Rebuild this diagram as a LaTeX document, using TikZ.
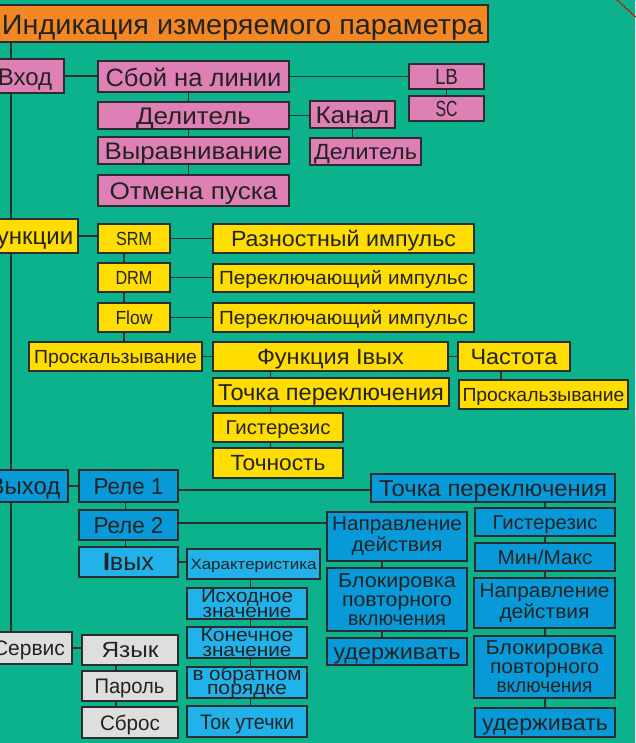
\documentclass[tikz,border=0pt]{standalone}
\usepackage{fontspec}
\setmainfont{Liberation Sans}
\usepackage{graphicx}
\pgfdeclarelayer{back}\pgfdeclarelayer{bg}\pgfsetlayers{back,bg,main}
\definecolor{bgc}{RGB}{12,178,140}
\definecolor{orangec}{RGB}{242,135,35}
\definecolor{pinkc}{RGB}{222,128,182}
\definecolor{yelc}{RGB}{255,221,0}
\definecolor{blued}{RGB}{8,154,216}
\definecolor{bluel}{RGB}{32,178,232}
\definecolor{grayc}{RGB}{222,222,222}
\definecolor{edge}{RGB}{45,45,45}
\definecolor{txt}{RGB}{35,35,35}
\newlength\fwlen
\newcommand\fw[2]{\settowidth\fwlen{#2}\pgfmathsetmacro\fwr{#1/\fwlen}\scalebox{\fwr}[1]{#2}}
% #1 box style, #2 name, #3 x1, #4 y1, #5 x2, #6 y2, #7 text options, #8 text
\newcommand\B[8]{%
  \pgfmathsetmacro\bw{#5-#3}\pgfmathsetmacro\bh{#6-#4}%
  \pgfmathsetmacro\bx{(#3+#5)/2}\pgfmathsetmacro\by{(#4+#6)/2}%
  \node[#1,minimum width=\bw pt,minimum height=\bh pt] (#2) at (\bx,\by) {};%
  \node[lbl,#7] (#2t) at (#2.center) {#8};}
\tikzset{
  box/.style={draw=edge,line width=1.1pt,inner sep=0pt},
  lbl/.style={inner sep=0pt,text=txt,align=center},
  fs/.style={font=\fontsize{#1}{#1}\selectfont,text height={0.716*#1pt},text depth=0pt},
  pk/.style={box,fill=pinkc}, yl/.style={box,fill=yelc},
  bd/.style={box,fill=blued}, bl/.style={box,fill=bluel},
  gr/.style={box,fill=grayc}, og/.style={box,fill=orangec},
  conn/.style={draw=edge,line width=1.1pt}
}
\begin{document}
\begin{tikzpicture}[x=1pt,y=-1pt]
\useasboundingbox (0,0) rectangle (635,743);
\begin{pgfonlayer}{back}
\fill[bgc] (0,0) rectangle (635,743);
\end{pgfonlayer}
% title
\B{og}{title}{-3}{5}{488}{42}{fs=28,yshift=-1pt}{\fw{481}{Индикация измеряемого параметра}}
% input
\B{pk}{vhod}{-14}{59}{64}{93}{fs=24,yshift=-1pt}{Вход}
\B{pk}{sboy}{98}{61}{289}{92}{fs=25,yshift=-1.5pt}{\fw{176}{Сбой на линии}}
\B{pk}{lb}{409}{64}{484}{89}{fs=22}{\fw{23}{LB}}
\B{pk}{sc}{409}{96}{484}{121}{fs=22}{\fw{22}{SC}}
\B{pk}{del1}{98}{102}{289}{129}{fs=24}{\fw{115}{Делитель}}
\B{pk}{kanal}{310}{101}{395}{128}{fs=24}{\fw{74}{Канал}}
\B{pk}{del2}{310}{138}{421}{165}{fs=22}{\fw{103}{Делитель}}
\B{pk}{vyr}{98}{137}{289}{164}{fs=24}{\fw{178}{Выравнивание}}
\B{pk}{otm}{98}{175}{289}{206}{fs=24}{\fw{168}{Отмена пуска}}
% functions
\B{yl}{funk}{-26}{219}{78}{253}{fs=24}{Функции}
\B{yl}{srm}{98}{224}{170}{253}{fs=19}{\fw{36}{SRM}}
\B{yl}{razn}{213}{224}{474}{253}{fs=22}{\fw{225}{Разностный импульс}}
\B{yl}{drm}{98}{263}{170}{292}{fs=19}{\fw{37}{DRM}}
\B{yl}{per1}{213}{264}{474}{292}{fs=19}{\fw{249}{Переключающий импульс}}
\B{yl}{flow}{98}{303}{170}{332}{fs=19}{\fw{37}{Flow}}
\B{yl}{per2}{213}{303}{474}{332}{fs=19}{\fw{249}{Переключающий импульс}}
\B{yl}{prosk1}{29}{342}{202}{371}{fs=19}{\fw{163}{Проскальзывание}}
\B{yl}{funkI}{213}{342}{448}{371}{fs=22}{\fw{147}{Функция Iвых}}
\B{yl}{chast}{458}{342}{570}{371}{fs=22}{\fw{87}{Частота}}
\B{yl}{prosk2}{459}{380}{628}{409}{fs=19}{\fw{162}{Проскальзывание}}
\B{yl}{tochY}{213}{378}{449}{406}{fs=23}{\fw{226}{Точка переключения}}
\B{yl}{gistY}{213}{413}{343}{442}{fs=20}{\fw{105}{Гистерезис}}
\B{yl}{tochn}{213}{448}{343}{478}{fs=22}{\fw{95}{Точность}}
% output
\B{bd}{vyhod}{-19}{470}{68}{502}{fs=24}{Выход}
\B{bd}{rele1}{79}{470}{178}{502}{fs=23}{\fw{70}{Реле 1}}
\B{bd}{rele2}{79}{510}{178}{540}{fs=23}{\fw{70}{Реле 2}}
\B{bl}{ivyh}{79}{547}{178}{577}{fs=25}{\fw{51}{\textbf{I}вых}}
\B{bd}{tochB}{371}{474}{615}{502}{fs=23}{\fw{228}{Точка переключения}}
\B{bd}{napr1}{327}{512}{467}{561}{font=\fontsize{20}{21}\selectfont}{\fw{130}{Направление}\\\fw{91}{действия}}
\B{bd}{blok1}{327}{568}{467}{631}{font=\fontsize{20}{19}\selectfont}{\fw{118}{Блокировка}\\\fw{110}{повторного}\\\fw{98}{включения}}
\B{bd}{uderzh1}{327}{638}{467}{665}{fs=22}{\fw{127}{удерживать}}
\B{bd}{gistB}{475}{508}{615}{536}{fs=20}{\fw{105}{Гистерезис}}
\B{bd}{minmax}{475}{543}{615}{571}{fs=20}{\fw{95}{Мин/Макс}}
\B{bd}{napr2}{474}{578}{615}{628}{font=\fontsize{20}{21}\selectfont}{\fw{130}{Направление}\\\fw{90}{действия}}
\B{bd}{blok2}{474}{636}{615}{698}{font=\fontsize{20}{19}\selectfont}{\fw{118}{Блокировка}\\\fw{109}{повторного}\\\fw{96}{включения}}
\B{bd}{uderzh2}{475}{708}{615}{737}{fs=22}{\fw{126}{удерживать}}
\B{bl}{har}{187}{549}{320}{579}{fs=15}{\fw{126}{Характеристика}}
\B{bl}{ish}{187}{588}{307}{619}{font=\fontsize{19}{14.5}\selectfont}{\fw{92}{Исходное}\\\fw{89}{значение}}
\B{bl}{kon}{187}{627}{307}{658}{font=\fontsize{19}{14.5}\selectfont}{\fw{93}{Конечное}\\\fw{89}{значение}}
\B{bl}{obr}{187}{667}{307}{698}{font=\fontsize{19}{14.5}\selectfont}{\fw{109}{в обратном}\\\fw{80}{порядке}}
\B{bl}{tok}{187}{706}{307}{737}{fs=21}{\fw{94}{Ток утечки}}
% service
\B{gr}{servis}{-14}{632}{72}{664}{fs=21}{Сервис}
\B{gr}{yazyk}{82}{635}{178}{665}{fs=22}{\fw{57}{Язык}}
\B{gr}{parol}{82}{671}{177}{701}{fs=21}{\fw{70}{Пароль}}
\B{gr}{sbros}{82}{707}{178}{738}{fs=21}{\fw{60}{Сброс}}
% connectors
\coordinate (mx) at (11,0);
\coordinate (r1) at (617,0);
\coordinate (r2) at (636,17);
\begin{pgfonlayer}{bg}
\draw[conn] (title.south -| mx) -- (servis.north -| mx);
\draw[conn] (vhod.east) -- (vhod.east -| sboy.west);
\draw[conn] (sboy.east |- lb.west) -- (lb.west);
\draw[conn] (lb.south) -- (sc.north);
\draw[conn] ([xshift=-5pt]sboy.south) -- ([xshift=-5pt]otm.north);
\draw[conn] (del1.east) -- (del1.east -| kanal.west);
\draw[conn] (kanal.south) -- (kanal.south |- del2.north);
\draw[conn] (funk.east) -- (funk.east -| srm.west);
\draw[conn] (srm.east) -- (srm.east -| razn.west);
\draw[conn] ([xshift=-10pt]srm.south) -- ([xshift=-10pt]srm.south |- prosk1.north);
\draw[conn] (drm.east) -- (drm.east -| per1.west);
\draw[conn] (flow.east) -- (flow.east -| per2.west);
\draw[conn] (prosk1.east) -- (prosk1.east -| funkI.west);
\draw[conn] (funkI.east) -- (funkI.east -| chast.west);
\draw[conn] ([xshift=-13pt]chast.south) -- ([xshift=-13pt]chast.south |- prosk2.north);
\draw[conn] ([xshift=-60pt]funkI.south) -- ([xshift=-60pt]funkI.south |- tochn.north);
\draw[conn] (vyhod.east) -- (vyhod.east -| rele1.west);
\draw[conn] ([yshift=-2pt]rele1.east |- tochB.west) -- ([yshift=-2pt]tochB.west);
\draw[conn] ([xshift=-3pt]rele1.south) -- ([xshift=-3pt]ivyh.north);
\draw[conn] ([yshift=2pt]rele2.east) -- ([yshift=2pt]rele2.east -| napr1.west);
\draw[conn] ([xshift=-15pt]napr1.south) -- ([xshift=-15pt]uderzh1.north);
\draw[conn] (tochB.south -| gistB.north) -- (uderzh2.north);
\draw[conn] (ivyh.east) -- (ivyh.east -| har.west);
\draw[conn] ([xshift=-3pt]har.south) -- ([xshift=-3pt]har.south |- tok.north);
\draw[conn] (servis.east) -- (servis.east -| yazyk.west);
\draw[conn] ([xshift=-14pt]yazyk.south) -- ([xshift=-14pt]sbros.north);
\end{pgfonlayer}
\draw[red!85!black,line width=1.4pt,dash pattern=on 2pt off 1pt] (r1) -- (r2);
\end{tikzpicture}
\end{document}
